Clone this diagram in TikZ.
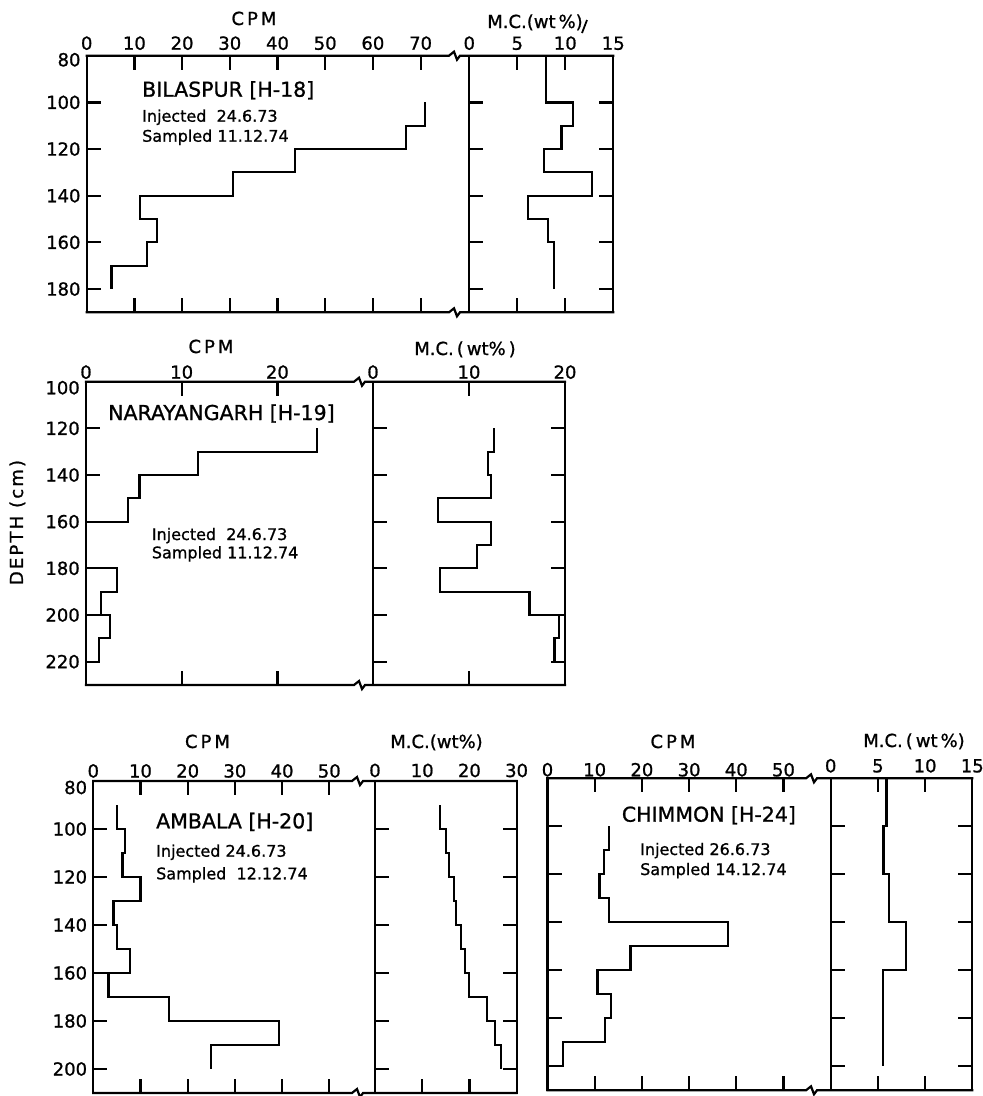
\documentclass[tikz,border=0pt]{standalone}
\usepackage{fontspec}
\setmainfont{DejaVu Sans}[FakeBold=1]
\newfontfamily\spacedfont[LetterSpace=12,FakeBold=1]{DejaVu Sans}
\usepackage{tikz}
\tikzset{
	axis_line/.style = {
		line width=2.2pt,
		line cap=rect
	},
	prof_line/.style = {
		line width=2.2pt,
		line join=miter
	},
	brk/.style = {
		insert path={-- ++(5,-4) -- ++(3,8) -- ++(3,-4)}
	},
	num_lbl/.style = {
		inner sep=0pt,
		font=\fontsize{18}{18}\selectfont
	},
	top_num/.style = {
		num_lbl,
		anchor=base
	},
	depth_num/.style = {
		num_lbl,
		anchor=east,
		xshift=-6pt
	},
	axis_title/.style = {
		inner sep=0pt,
		anchor=base,
		font=\fontsize{18}{18}\selectfont
	},
	site_lbl/.style = {
		inner sep=0pt,
		anchor=base west,
		font=\fontsize{20.5}{20.5}\selectfont
	},
	date_lbl/.style = {
		inner sep=0pt,
		anchor=base west,
		font=\fontsize{16}{16}\selectfont
	},
	depth_title/.style = {
		inner sep=0pt,
		rotate=90,
		anchor=base,
		font=\spacedfont\fontsize{18}{18}\selectfont
	},
}

\begin{document}
\begin{tikzpicture}[x=1pt, y=-1pt]
\useasboundingbox (0,0) rectangle (983,1096);

\node[depth_title] (depth_ttl) at (23,522.5) {DEPTH (cm)};

% Bilaspur [H-18]
\draw[axis_line] (86.7,55.7) -- (449,55.7) [brk] -- (613.3,55.7);
\draw[axis_line] (86.7,312.3) -- (449,312.3) [brk] -- (613.3,312.3);
\begin{scope}[shift={(86.7pt,130.9pt)}, x=4.77pt, y=-2.333pt]
	\draw[axis_line] (0,80) -- (0,190);
	\foreach \c in {10,20,...,70} {
		\draw[axis_line] (\c,80) -- ++(0pt,-13pt);
		\draw[axis_line] (\c,190) -- ++(0pt,13pt);
	}
	\foreach \d in {100,120,...,180} {
		\draw[axis_line] (0,\d) -- ++(13pt,0pt);
		\node[depth_num] (a_d\d) at (0,\d) {\d};
	}
	\foreach \c in {0,10,...,70}
		\node[top_num, yshift=6pt] (a_c\c) at (\c,80) {\c};
	\node[depth_num, yshift=-4pt] (a_d80) at (0,80) {80};
	\draw[prof_line] (71,100) |- (67,110) |- (43.7,120) |- (30.7,130) |- (11.2,140)
		|- (14.8,150) |- (12.6,160) |- (5.2,170) -- (5.2,180);
\end{scope}
\begin{scope}[shift={(469.3pt,130.9pt)}, x=9.6pt, y=-2.333pt]
	\draw[axis_line] (0,80) -- (0,190) (15,80) -- (15,190);
	\foreach \m in {5,10} {
		\draw[axis_line] (\m,80) -- ++(0pt,-13pt);
		\draw[axis_line] (\m,190) -- ++(0pt,13pt);
	}
	\foreach \d in {100,120,...,180} {
		\draw[axis_line] (0,\d) -- ++(13pt,0pt);
		\draw[axis_line] (15,\d) -- ++(-13pt,0pt);
	}
	\foreach \m in {0,5,10,15}
		\node[top_num, yshift=6pt] (a_m\m) at (\m,80) {\m};
	\draw[prof_line] (8,80) |- (10.8,100) |- (9.6,110) |- (7.8,120) |- (12.8,130)
		|- (6.1,140) |- (8.2,150) |- (8.8,160) -- (8.8,180);
\end{scope}
\node[axis_title] (a_cpm) at (254,25) {C\,P\,M};
\node[axis_title] (a_mc) at (535,28) {M.C.(wt\,\%)};
\draw[line width=1.8pt] (587,20) -- (582,33);
\node[site_lbl] (a_site) at (142,96.7) {BILASPUR [H-18]};
\node[date_lbl] (a_inj) at (142,121.7) {Injected\ \ 24.6.73};
\node[date_lbl] (a_smp) at (142,141.7) {Sampled 11.12.74};

% Narayangarh [H-19]
\draw[axis_line] (86,381.7) -- (354,381.7) [brk] -- (565,381.7);
\draw[axis_line] (86,685) -- (354,685) [brk] -- (565,685);
\begin{scope}[shift={(86pt,-148.4pt)}, x=9.57pt, y=-2.333pt]
	\draw[axis_line] (0,100) -- (0,230);
	\foreach \c in {10,20} {
		\draw[axis_line] (\c,100) -- ++(0pt,-13pt);
		\draw[axis_line] (\c,230) -- ++(0pt,13pt);
	}
	\foreach \d in {120,140,...,220} {
		\draw[axis_line] (0,\d) -- ++(13pt,0pt);
		\node[depth_num] (b_d\d) at (0,\d) {\d};
	}
	\foreach \c in {0,10,20}
		\node[top_num, yshift=3pt] (b_c\c) at (\c,100) {\c};
	\node[depth_num, yshift=-6pt] (b_d100) at (0,100) {100};
	\draw[prof_line] (24.1,120) |- (11.7,130) |- (5.6,140) |- (4.4,150) |- (0,160)
		|- (3.2,180) |- (1.6,190) |- (2.5,200) |- (1.4,210) |- (0,220);
\end{scope}
\begin{scope}[shift={(373pt,-148.4pt)}, x=9.6pt, y=-2.333pt]
	\draw[axis_line] (0,100) -- (0,230) (20,100) -- (20,230);
	\draw[axis_line] (10,100) -- ++(0pt,-13pt);
	\draw[axis_line] (10,230) -- ++(0pt,13pt);
	\foreach \d in {120,140,...,220} {
		\draw[axis_line] (0,\d) -- ++(13pt,0pt);
		\draw[axis_line] (20,\d) -- ++(-13pt,0pt);
	}
	\foreach \m in {0,10,20}
		\node[top_num, yshift=3pt] (b_m\m) at (\m,100) {\m};
	\draw[prof_line] (12.6,120) |- (12.0,130) |- (12.3,140) |- (6.8,150) |- (12.3,160)
		|- (10.8,170) |- (7.0,180) |- (16.3,190) |- (19.4,200) |- (18.9,210) |- (20,220);
\end{scope}
\node[axis_title] (b_cpm) at (211,353) {C\,P\,M};
\node[axis_title] (b_mc) at (465,355) {M.C.\,(\,wt\%\,)};
\node[site_lbl] (b_site) at (108,420) {NARAYANGARH [H-19]};
\node[date_lbl] (b_inj) at (151.7,540) {Injected\ \ 24.6.73};
\node[date_lbl] (b_smp) at (151.7,558.3) {Sampled 11.12.74};

% Ambala [H-20]
\draw[axis_line] (93.3,781) -- (352,781) [brk] -- (516.6,781);
\draw[axis_line] (93.3,1093) -- (352,1093) [brk] -- (516.6,1093);
\begin{scope}[shift={(93.3pt,-589pt)}, x=4.72pt, y=-2.4pt]
	\draw[axis_line] (0,80) -- (0,210);
	\foreach \c in {10,20,...,50} {
		\draw[axis_line] (\c,80) -- ++(0pt,-13pt);
		\draw[axis_line] (\c,210) -- ++(0pt,13pt);
	}
	\foreach \d in {100,120,...,200} {
		\draw[axis_line] (0,\d) -- ++(13pt,0pt);
		\node[depth_num] (c_d\d) at (0,\d) {\d};
	}
	\foreach \c in {0,10,...,50}
		\node[top_num, yshift=3.5pt] (c_c\c) at (\c,80) {\c};
	\node[depth_num, yshift=-6.5pt] (c_d80) at (0,80) {80};
	\draw[prof_line] (5.1,90) |- (6.7,100) |- (6.2,110) |- (10,120) |- (4.3,130)
		|- (5.1,140) |- (7.7,150) |- (3.2,160) |- (16,170) |- (39.4,180) |- (25,190) -- (25,200);
\end{scope}
\begin{scope}[shift={(375pt,-589pt)}, x=4.72pt, y=-2.4pt]
	\draw[axis_line] (0,80) -- (0,210) (30,80) -- (30,210);
	\foreach \m in {10,20}
		\draw[axis_line] (\m,210) -- ++(0pt,13pt);
	\foreach \d in {100,120,...,200} {
		\draw[axis_line] (0,\d) -- ++(13pt,0pt);
		\draw[axis_line] (30,\d) -- ++(-13pt,0pt);
	}
	\foreach \m in {0,10,20,30}
		\node[top_num, yshift=4pt] (c_m\m) at (\m,80) {\m};
	\draw[prof_line] (13.7,90) |- (15.0,100) |- (15.7,110) |- (16.8,120) |- (17.2,130)
		|- (18.3,140) |- (19.0,150) |- (19.9,160) |- (23.8,170) |- (25.5,180) |- (26.7,190) -- (26.7,200);
\end{scope}
\node[axis_title] (c_cpm) at (207.5,748) {C\,P\,M};
\node[axis_title] (c_mc) at (436.5,748) {M.C.(wt\%)};
\node[site_lbl] (c_site) at (156,828.3) {AMBALA [H-20]};
\node[date_lbl] (c_inj) at (156,856.7) {Injected 24.6.73};
\node[date_lbl] (c_smp) at (156,879.3) {Sampled\ \ 12.12.74};

% Chimmon [H-24]
\draw[axis_line] (547.5,778.3) -- (806,778.3) [brk] -- (972.3,778.3);
\draw[axis_line] (547.5,1090.3) -- (806,1090.3) [brk] -- (972.3,1090.3);
\begin{scope}[shift={(547.5pt,-586.3pt)}, x=4.72pt, y=-2.4pt]
	\draw[axis_line] (0,80) -- (0,210);
	\foreach \c in {10,20,...,50} {
		\draw[axis_line] (\c,80) -- ++(0pt,-13pt);
		\draw[axis_line] (\c,210) -- ++(0pt,13pt);
	}
	\foreach \d in {100,120,...,200}
		\draw[axis_line] (0,\d) -- ++(13pt,0pt);
	\foreach \c in {0,10,...,50}
		\node[top_num, yshift=2pt] (d_c\c) at (\c,80) {\c};
	\draw[prof_line] (13.0,100) |- (11.9,110) |- (11.0,120) |- (13.1,130) |- (38.3,140)
		|- (17.6,150) |- (10.6,160) |- (13.5,170) |- (12.1,180) |- (3.3,190) |- (0,200);
\end{scope}
\begin{scope}[shift={(830.7pt,-586.3pt)}, x=9.44pt, y=-2.4pt]
	\draw[axis_line] (0,80) -- (0,210) (15,80) -- (15,210);
	\foreach \m in {5,10} {
		\draw[axis_line] (\m,80) -- ++(0pt,-13pt);
		\draw[axis_line] (\m,210) -- ++(0pt,13pt);
	}
	\foreach \d in {100,120,...,200} {
		\draw[axis_line] (0,\d) -- ++(13pt,0pt);
		\draw[axis_line] (15,\d) -- ++(-13pt,0pt);
	}
	\foreach \m in {0,5,10,15}
		\node[top_num, yshift=6pt] (d_m\m) at (\m,80) {\m};
	\draw[prof_line] (5.9,80) |- (5.6,100) |- (6.2,120) |- (8.0,140) |- (5.5,160) -- (5.5,200);
\end{scope}
\node[axis_title] (d_cpm) at (673,748) {C\,P\,M};
\node[axis_title] (d_mc) at (914,747) {M.C.\,(\,wt\,\%)};
\node[site_lbl] (d_site) at (621.7,821.7) {CHIMMON [H-24]};
\node[date_lbl] (d_inj) at (640,855) {Injected 26.6.73};
\node[date_lbl] (d_smp) at (640,875) {Sampled 14.12.74};
\end{tikzpicture}
\end{document}
